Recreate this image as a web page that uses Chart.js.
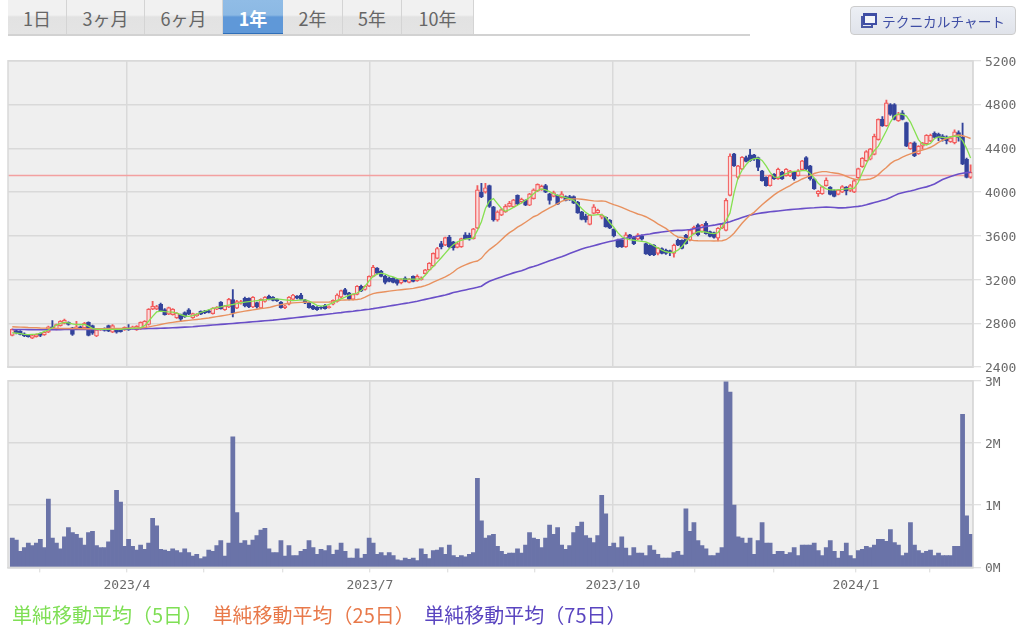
<!DOCTYPE html>
<html>
<head>
<meta charset="utf-8">
<script src="https://cdn.jsdelivr.net/npm/chart.js@4"></script>
<style>
html,body{margin:0;padding:0;background:#fff;width:1024px;height:631px;overflow:hidden;font-family:"Noto Sans CJK JP",sans-serif}
#page{position:absolute;left:0;top:0;width:1024px;height:631px;filter:blur(.35px)}
.tab{position:absolute;top:0;height:34px;line-height:36px;text-align:center;font-size:18px;color:#666;background:linear-gradient(#f1f1f1 0,#f1f1f1 15px,#e2e2e2 17px,#e4e4e4 100%);border-right:1px solid #d4d4d4;box-sizing:border-box}
.tab.on{background:linear-gradient(#90bce6 0,#8cb9e4 15px,#5f98d8 17px,#5f98d8 100%);color:#fff;font-weight:700;border-right:none;border-bottom:3px solid #2f6fb8;height:36px}
#tabline{position:absolute;left:8px;top:34px;width:742px;height:2px;background:#d2d2d2}
#techbtn{position:absolute;left:850px;top:6px;width:166px;height:29px;box-sizing:border-box;border:1px solid #ccc;border-radius:4px;background:linear-gradient(#eceff5,#e0e3ea);color:#3f4ea5;font-size:13.7px;line-height:28px;padding-left:31px;white-space:nowrap}
#ico1{position:absolute;left:10px;top:9px;width:12px;height:12px;border:2px solid #4a58a5;border-top-width:2px;background:#e8ebf2;box-sizing:border-box}
#ico2{position:absolute;left:12px;top:6px;width:14px;height:12px;border:2px solid #3f4ea5;border-top-width:3px;background:#f4f6fa;box-sizing:border-box}
#legend{position:absolute;top:601px;left:12px;font-size:20px;line-height:28px;white-space:nowrap}
#legend span{margin-right:9.5px}
canvas{position:absolute}
</style>
</head>
<body>
<div id="page">
<div class="tab" style="left:8px;width:59px">1日</div>
<div class="tab" style="left:67px;width:78px">3ヶ月</div>
<div class="tab" style="left:145px;width:78px">6ヶ月</div>
<div class="tab on" style="left:223px;width:60px">1年</div>
<div class="tab" style="left:283px;width:60px">2年</div>
<div class="tab" style="left:343px;width:59px">5年</div>
<div class="tab" style="left:402px;width:72px">10年</div>
<div id="tabline"></div>
<div id="techbtn"><div id="ico1"></div><div id="ico2"></div>テクニカルチャート</div>
<canvas id="priceChart" width="1018" height="330" style="left:6px;top:49px"></canvas>
<canvas id="volChart" width="1018" height="229" style="left:6px;top:369px"></canvas>
<div id="legend"><span style="color:#7fdf55">単純移動平均（5日）</span><span style="color:#e8794a">単純移動平均（25日）</span><span style="color:#5a45c0">単純移動平均（75日）</span></div>
</div>
<script>
// one entry per trading day
var opens = [
2690,2735,2730,2705,2695,2665,2680,2710,2695,2720,
2770,2745,2780,2800,2810,2760,2750,2770,2760,2810,
2780,2685,2740,2750,2780,2720,2750,2745,2740,2760,
2755,2740,2750,2760,2790,2930,2930,2975,2927,2885,
2880,2850,2880,2900,2925,2850,2870,2910,2915,2915,
2890,2930,2995,2925,2950,3018,2940,2985,3030,3030,
2950,2990,2940,3000,3050,3040,3020,2995,2945,2975,
3020,3050,3060,3015,2990,2960,2950,2950,2965,2945,
2975,3000,3040,3110,3080,3020,3065,3140,3110,3140,
3230,3305,3275,3230,3215,3215,3200,3170,3215,3175,
3230,3190,3200,3255,3290,3325,3395,3530,3515,3590,
3545,3495,3500,3610,3605,3575,3670,4000,4000,4060,
3865,3745,3790,3820,3870,3865,3970,3910,3925,3880,
3940,4010,4020,4060,3985,3960,3970,3950,3960,3960,
3960,3910,3820,3780,3705,3805,3810,3770,3770,3745,
3660,3560,3560,3500,3610,3590,3570,3600,3530,3515,
3515,3440,3485,3470,3465,3440,3560,3560,3605,3560,
3620,3700,3640,3715,3640,3630,3580,3670,3650,3970,
4350,4135,4210,4315,4340,4340,4315,4195,4135,4060,
4165,4120,4180,4150,4150,4180,4150,4205,4315,4240,
4120,3985,3985,4060,4045,4015,3980,4000,4045,4015,
4000,4130,4232,4285,4300,4345,4480,4665,4605,4800,
4800,4650,4725,4635,4395,4450,4350,4420,4440,4465,
4540,4530,4515,4505,4460,4450,4545,4500,4300,4135]
var closes = [
2745,2715,2700,2685,2680,2690,2700,2690,2720,2770,
2750,2790,2820,2830,2790,2700,2770,2750,2800,2690,
2710,2740,2750,2735,2730,2780,2720,2725,2765,2740,
2770,2775,2810,2820,2930,2958,2955,2915,2880,2945,
2930,2895,2840,2860,2885,2890,2885,2885,2895,2900,
2940,2950,2935,2960,3020,2895,3000,3000,2960,2950,
3040,2950,3020,3040,3020,3010,3005,2945,2960,3040,
3060,3030,3020,2985,2945,2930,2925,2940,2935,2955,
3010,3060,3100,3065,3020,3065,3140,3095,3140,3230,
3315,3260,3230,3175,3185,3175,3165,3200,3185,3205,
3185,3230,3215,3290,3350,3440,3485,3500,3585,3500,
3490,3530,3575,3575,3570,3665,4020,3955,4040,3870,
3745,3820,3840,3870,3900,3930,3895,3935,3880,3985,
4020,4070,4055,4000,3925,3995,3890,3985,3925,3930,
3900,3810,3750,3745,3790,3865,3835,3790,3685,3670,
3600,3500,3500,3610,3580,3530,3610,3570,3435,3425,
3425,3490,3440,3440,3445,3515,3515,3485,3530,3650,
3680,3610,3700,3620,3595,3585,3670,3705,3925,4330,
4240,4240,4320,4280,4285,4300,4225,4105,4060,4150,
4120,4210,4120,4210,4195,4120,4195,4285,4210,4120,
4030,4010,4050,4110,3980,3960,4020,4050,4010,4060,
4105,4215,4310,4370,4395,4510,4665,4605,4815,4710,
4665,4710,4665,4420,4450,4330,4420,4450,4520,4520,
4500,4495,4485,4470,4495,4550,4500,4255,4135,4180]
var highs = [
2750,2745,2735,2715,2700,2695,2705,2715,2725,2775,
2825,2795,2825,2840,2815,2765,2820,2775,2810,2815,
2785,2745,2755,2760,2785,2790,2755,2750,2770,2790,
2775,2780,2815,2825,2935,3003,2965,2985,2935,2950,
2935,2900,2885,2905,2935,2895,2890,2915,2920,2925,
2945,2955,3000,2965,3030,3110,3010,3010,3040,3035,
3045,2995,3025,3045,3060,3045,3025,3000,2965,3045,
3065,3055,3075,3020,2995,2965,2955,2955,2975,2960,
3015,3070,3105,3120,3085,3070,3145,3150,3145,3235,
3330,3310,3285,3240,3225,3220,3205,3205,3225,3210,
3235,3245,3225,3295,3355,3445,3495,3550,3590,3605,
3550,3540,3580,3630,3625,3670,4060,4080,4080,4065,
3870,3830,3850,3885,3915,3935,3975,3945,3930,3990,
4030,4075,4065,4070,3990,4010,3975,4005,3965,3970,
3965,3915,3825,3800,3795,3885,3845,3800,3775,3750,
3665,3570,3565,3630,3615,3595,3620,3610,3535,3520,
3520,3495,3490,3480,3470,3525,3570,3565,3615,3655,
3690,3710,3705,3730,3645,3635,3675,3710,3940,4350,
4355,4245,4325,4330,4390,4345,4320,4200,4140,4155,
4170,4220,4190,4215,4200,4190,4205,4290,4325,4245,
4125,4015,4055,4130,4050,4020,4025,4060,4050,4070,
4120,4220,4315,4380,4400,4530,4670,4690,4840,4810,
4810,4730,4745,4640,4455,4460,4425,4455,4525,4530,
4550,4540,4525,4515,4510,4570,4560,4630,4310,4250]
var lows = [
2685,2705,2695,2680,2675,2660,2675,2680,2690,2715,
2745,2740,2775,2795,2785,2690,2745,2745,2755,2685,
2700,2680,2735,2730,2725,2715,2710,2720,2735,2735,
2750,2735,2745,2755,2785,2925,2925,2910,2875,2880,
2875,2845,2820,2855,2880,2845,2865,2880,2890,2895,
2885,2925,2930,2920,2945,2860,2935,2975,2950,2945,
2945,2940,2935,2995,3015,3005,3000,2940,2935,2970,
3015,3025,3015,2980,2940,2925,2920,2930,2930,2940,
2970,2995,3030,3060,3015,3015,3060,3090,3105,3135,
3225,3250,3225,3160,3180,3170,3150,3160,3180,3170,
3180,3185,3195,3250,3285,3320,3390,3480,3510,3490,
3470,3490,3495,3570,3560,3570,3665,3950,3990,3860,
3735,3735,3785,3815,3865,3860,3885,3900,3875,3875,
3935,4005,4015,3995,3890,3955,3885,3945,3920,3925,
3895,3805,3745,3725,3700,3800,3805,3755,3680,3665,
3590,3495,3495,3495,3575,3520,3565,3560,3430,3420,
3420,3425,3435,3430,3420,3405,3510,3480,3525,3555,
3615,3600,3635,3615,3590,3580,3555,3665,3645,3965,
4235,4120,4205,4275,4280,4290,4195,4100,4055,4055,
4115,4115,4115,4145,4140,4110,4145,4200,4205,4110,
4025,3960,3980,4055,3975,3955,3975,3995,3975,4005,
3995,4125,4225,4280,4295,4340,4475,4600,4600,4700,
4660,4645,4660,4415,4390,4325,4345,4395,4435,4460,
4495,4470,4465,4440,4455,4440,4465,4250,4130,4125]
var ma5 = [
2715,2712,2706,2700,2698,2700,2702,2710,2728,2740,
2760,2785,2800,2810,2805,2795,2790,2790,2790,2775,
2755,2745,2745,2745,2745,2745,2745,2745,2750,2752,
2755,2758,2760,2780,2820,2865,2905,2912,2908,2905,
2903,2895,2880,2868,2865,2872,2885,2900,2912,2925,
2938,2945,2952,2960,2968,2973,2980,2988,2995,3000,
3003,3008,3012,3016,3020,3024,3024,3020,3016,3012,
3008,3010,3016,3016,3005,2985,2965,2958,2962,2975,
2988,3010,3025,3040,3058,3068,3078,3100,3140,3190,
3230,3250,3260,3250,3235,3225,3210,3208,3205,3205,
3205,3205,3206,3240,3285,3320,3360,3400,3442,3485,
3520,3545,3560,3570,3575,3580,3650,3730,3850,3920,
3940,3895,3850,3825,3840,3860,3880,3900,3925,3950,
3985,4015,4030,4020,4005,3985,3970,3960,3950,3940,
3925,3890,3850,3815,3790,3790,3795,3795,3770,3720,
3680,3630,3592,3575,3565,3560,3555,3550,3545,3530,
3510,3490,3470,3455,3448,3450,3470,3500,3550,3590,
3620,3638,3640,3635,3625,3620,3630,3680,3740,3810,
3990,4130,4200,4250,4290,4305,4310,4290,4240,4180,
4136,4135,4150,4170,4181,4190,4192,4196,4198,4170,
4130,4080,4050,4030,4020,4020,4022,4025,4030,4033,
4036,4090,4180,4260,4330,4380,4420,4490,4560,4640,
4695,4715,4710,4695,4640,4560,4480,4438,4430,4445,
4490,4505,4500,4495,4505,4512,4510,4470,4400,4311]
var ma25 = [
2770,2768,2766,2765,2763,2762,2760,2758,2757,2756,
2755,2755,2754,2754,2754,2753,2753,2752,2752,2752,
2752,2752,2752,2752,2753,2753,2754,2755,2755,2756,
2757,2758,2760,2762,2768,2775,2782,2790,2798,2805,
2810,2815,2820,2824,2828,2832,2836,2840,2845,2850,
2856,2862,2868,2874,2880,2890,2900,2906,2912,2918,
2924,2930,2935,2940,2945,2955,2965,2972,2978,2984,
2988,2990,2992,2994,2995,2995,2995,2995,2995,2996,
2998,3005,3013,3014,3015,3017,3019,3024,3040,3058,
3073,3080,3085,3090,3095,3100,3104,3108,3112,3116,
3120,3128,3135,3145,3160,3178,3194,3210,3225,3245,
3270,3300,3320,3335,3350,3362,3370,3395,3440,3475,
3502,3530,3565,3600,3630,3653,3680,3700,3725,3750,
3775,3790,3815,3835,3855,3875,3895,3915,3930,3935,
3938,3938,3935,3930,3925,3920,3918,3920,3915,3900,
3885,3875,3860,3845,3828,3815,3800,3790,3775,3755,
3735,3710,3690,3668,3640,3610,3590,3585,3575,3565,
3557,3555,3554,3554,3554,3553,3554,3556,3565,3590,
3625,3670,3715,3755,3790,3815,3850,3885,3915,3945,
3975,4000,4020,4040,4060,4085,4100,4120,4135,4150,
4170,4180,4187,4187,4180,4175,4170,4160,4145,4130,
4118,4112,4112,4115,4120,4135,4160,4195,4225,4260,
4285,4300,4320,4335,4350,4362,4375,4385,4395,4410,
4430,4455,4475,4490,4505,4515,4522,4515,4505,4490]
var ma75 = [
2745,2745,2744,2744,2743,2743,2742,2742,2742,2742,
2743,2743,2743,2744,2744,2744,2745,2745,2745,2745,
2746,2746,2746,2746,2747,2747,2747,2748,2748,2749,
2750,2750,2751,2752,2753,2754,2755,2756,2757,2758,
2760,2762,2764,2766,2768,2770,2773,2776,2779,2782,
2785,2788,2791,2794,2797,2800,2803,2806,2809,2812,
2815,2818,2821,2824,2827,2830,2834,2838,2842,2846,
2850,2854,2858,2862,2866,2870,2874,2878,2882,2886,
2890,2895,2899,2904,2908,2912,2917,2921,2926,2930,
2935,2941,2947,2953,2959,2965,2971,2977,2983,2989,
2996,3003,3012,3020,3028,3036,3044,3052,3060,3070,
3082,3090,3098,3106,3114,3122,3130,3140,3165,3185,
3200,3212,3225,3238,3250,3262,3272,3282,3295,3310,
3320,3332,3345,3358,3372,3385,3398,3410,3424,3438,
3452,3466,3480,3492,3500,3510,3520,3530,3540,3548,
3556,3565,3572,3578,3585,3590,3598,3606,3612,3618,
3625,3630,3635,3640,3644,3648,3652,3650,3654,3658,
3665,3672,3678,3685,3692,3698,3705,3712,3720,3730,
3742,3755,3768,3780,3790,3798,3804,3810,3815,3820,
3824,3828,3832,3836,3840,3843,3846,3849,3852,3855,
3857,3860,3862,3864,3862,3860,3856,3856,3858,3862,
3866,3870,3876,3885,3895,3905,3915,3925,3935,3950,
3968,3985,3995,4003,4011,4020,4030,4040,4048,4060,
4075,4095,4115,4130,4143,4155,4165,4172,4178,4182]
var volumes = [
.47,.44,.26,.32,.39,.35,.39,.45,.32,1.10,
.47,.39,.30,.49,.64,.56,.53,.47,.36,.56,
.58,.35,.32,.32,.41,.60,1.24,1.05,.34,.45,
.34,.28,.36,.29,.39,.79,.67,.29,.28,.26,
.30,.27,.24,.30,.24,.18,.21,.14,.17,.28,
.26,.35,.43,.18,.39,2.10,.88,.39,.43,.36,
.44,.51,.60,.63,.30,.24,.24,.43,.18,.35,
.19,.19,.26,.29,.43,.32,.21,.29,.27,.35,
.21,.28,.39,.26,.15,.15,.30,.15,.21,.47,
.39,.21,.24,.19,.24,.19,.12,.11,.15,.13,
.15,.11,.30,.21,.14,.27,.28,.32,.21,.36,
.19,.16,.19,.17,.21,.24,1.43,.75,.47,.51,
.53,.34,.26,.21,.23,.23,.30,.23,.36,.56,
.47,.45,.32,.47,.68,.53,.64,.36,.29,.35,
.56,.66,.73,.51,.47,.40,.51,1.16,.86,.34,
.39,.32,.49,.31,.19,.32,.23,.23,.19,.35,
.28,.21,.15,.15,.15,.24,.26,.20,.94,.58,
.72,.43,.35,.30,.19,.19,.23,.32,3.0,2.82,
1.0,.49,.47,.39,.47,.21,.43,.72,.39,.39,
.21,.26,.26,.21,.24,.32,.19,.36,.36,.36,
.39,.27,.19,.32,.43,.26,.15,.26,.39,.19,
.14,.27,.29,.34,.32,.36,.45,.45,.42,.61,
.40,.36,.19,.23,.72,.36,.27,.23,.26,.28,
.19,.23,.19,.19,.19,.34,.34,2.46,.83,.53]
var refPrice = 4152
var priceTicks = [2400,2800,3200,3600,4000,4400,4800,5200]
var volTicks = [0,1,2,3]
var monthTicks = [6.9,28.6,47.8,67.5,89.2,108.7,130.4,149.8,170.3,190,210.4,228.9]
var monthLabels = ["","2023/4","","","2023/7","","","2023/10","","","2024/1",""]

var xMin = -1.07, xMax = 239.6
var gridColor = "#d9d9d9"
var axisFont = {family:"'DejaVu Sans Mono'", size:13}

var plotBack = {
    id: "plotBack",
    beforeDraw: function(chart){
        var a = chart.chartArea, c = chart.ctx
        c.save()
        c.fillStyle = "#efefef"
        c.fillRect(a.left, a.top, a.width, a.height)
        c.restore()
    },
    afterDatasetsDraw: function(chart){
        var a = chart.chartArea, c = chart.ctx
        c.save()
        c.strokeStyle = gridColor
        c.lineWidth = 1.5
        c.strokeRect(a.left, a.top, a.width, a.height)
        c.restore()
    }
}
function linePts(arr){
    return arr.map(function(v, i){ return {x:i, y:v} })
}
function setTicks(list){
    return function(scale){ scale.ticks = list.map(function(v){ return {value:v} }) }
}
function isQuarter(ctx){
    return ctx.tick && monthLabels[monthTicks.indexOf(ctx.tick.value)] != ""
}
function xAxis(showTicks){
    return {
        type: "linear", min: xMin, max: xMax, offset: false,
        afterBuildTicks: setTicks(monthTicks),
        grid: {
            offset: false, lineWidth: 1.5, drawTicks: showTicks, tickLength: 5, tickWidth: 1,
            color: function(ctx){ return isQuarter(ctx) ? gridColor : "rgba(0,0,0,0)" },
            tickColor: gridColor
        },
        border: {color: gridColor, width: 1.5},
        ticks: {
            display: showTicks, autoSkip: false, maxRotation: 0, color: "#6a6a6a", font: axisFont, padding: 5,
            callback: function(v, i){ return monthLabels[i] }
        }
    }
}
function yAxis(list, lo, hi, fmt){
    return {
        position: "right", min: lo, max: hi,
        afterBuildTicks: setTicks(list),
        afterFit: function(scale){ scale.width = 51 },
        grid: {color: gridColor, lineWidth: 1.5, tickLength: 8, tickWidth: 1},
        border: {color: gridColor, width: 1.5},
        ticks: {color: "#6a6a6a", font: axisFont, padding: 4, labelOffset: 1.5, callback: fmt}
    }
}
function candleColor(ctx){
    return closes[ctx.dataIndex] >= opens[ctx.dataIndex] ? "#f25c5c" : "#33439b"
}

new Chart(document.getElementById("priceChart"), {
    data: {
        datasets: [
            {type:"line", data:[{x:xMin,y:refPrice},{x:xMax,y:refPrice}], borderColor:"#f3a0a0", borderWidth:1.5, pointRadius:0, order:5},
            {type:"bar", grouped:false, data:highs.map(function(h,i){ return {x:i, y:[lows[i],h]} }), backgroundColor:candleColor, barThickness:1.2, order:4},
            {type:"bar", grouped:false, data:opens.map(function(o,i){ return {x:i, y:[o,closes[i]]} }),
                backgroundColor:function(ctx){ return closes[ctx.dataIndex] >= opens[ctx.dataIndex] ? "#fbdcdc" : "#33439b" },
                borderColor:candleColor, borderWidth:1.2, borderSkipped:false, barThickness:4, order:3},
            {type:"line", data:linePts(ma75), borderColor:"#6a4fc8", borderWidth:1.6, pointRadius:0, order:2},
            {type:"line", data:linePts(ma25), borderColor:"#e8915f", borderWidth:1.4, pointRadius:0, order:1},
            {type:"line", data:linePts(ma5), borderColor:"#86e050", borderWidth:1.3, pointRadius:0, order:0}
        ]
    },
    options: {
        responsive: false, animation: false,
        layout: {padding: {left:2, top:0, bottom:0, right:0}},
        plugins: {legend:{display:false}, tooltip:{enabled:false}},
        scales: {x: xAxis(false), y: yAxis(priceTicks, 2400, 5200, function(v){ return v })}
    },
    plugins: [plotBack]
})

new Chart(document.getElementById("volChart"), {
    type: "bar",
    data: {
        datasets: [{data: linePts(volumes), backgroundColor:"#6a73a8", barThickness:4.1}]
    },
    options: {
        responsive: false, animation: false,
        layout: {padding: {left:2, top:0, bottom:0, right:0}},
        plugins: {legend:{display:false}, tooltip:{enabled:false}},
        scales: {x: xAxis(true), y: yAxis(volTicks, 0, 3, function(v){ return v + "M" })}
    },
    plugins: [plotBack]
})
</script>
</body>
</html>
